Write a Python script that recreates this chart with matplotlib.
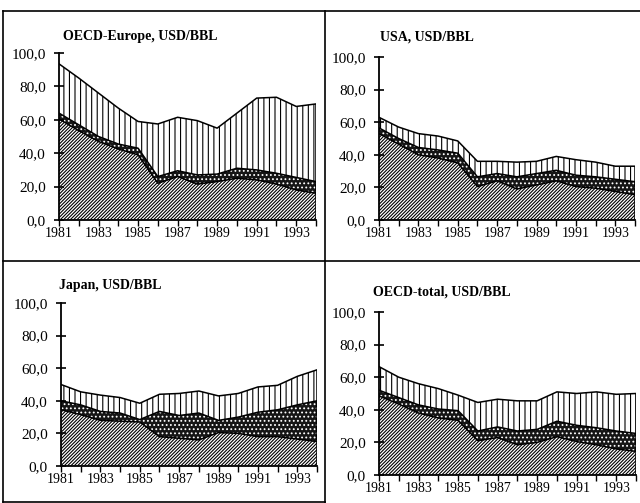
import numpy as np
import matplotlib.pyplot as plt
from matplotlib.lines import Line2D
from matplotlib.ticker import FuncFormatter, MultipleLocator

plt.rcParams['font.family'] = ['Liberation Serif', 'DejaVu Serif']
plt.rcParams['hatch.linewidth'] = 0.8

years = [1981, 1982, 1983, 1984, 1985, 1986, 1987, 1988, 1989, 1990, 1991, 1992, 1993, 1994]

# three stacked layers per region: bottom (diagonal), middle (dotted), top (vertical)
europe_bottom = [60.5, 53.5, 47, 42.5, 39, 22, 26, 21.5, 23, 25, 24, 21.5, 18, 16]
europe_middle = [3.5, 3.5, 3, 3, 4, 4, 3.5, 5.5, 4.5, 6, 6, 6.5, 7.5, 7]
europe_top = [29.5, 28, 26, 21.5, 16, 31.5, 32, 32.5, 27.5, 33, 43, 45.5, 42.5, 46.5]

usa_bottom = [53, 46.5, 40, 38, 35, 20.5, 24, 19, 21.5, 24, 20.5, 19.5, 17.5, 15.5]
usa_middle = [3.5, 3.5, 4.5, 5, 6, 6, 4.5, 7.5, 7, 6.5, 7, 7, 7.5, 8]
usa_top = [6.5, 7, 8.5, 8.5, 7.5, 9.5, 7.5, 9, 7.5, 8.5, 9.5, 9, 8, 9.5]

japan_bottom = [34.5, 31.5, 28, 27.5, 27, 18, 17, 16, 20.5, 20, 18, 18, 16.5, 15]
japan_middle = [5.5, 6, 5.5, 5, 1.5, 15.5, 14, 16.5, 7.5, 10, 15, 16.5, 21, 25]
japan_top = [10, 8, 10, 9.5, 10, 10.5, 13.5, 13.5, 15, 14.5, 15.5, 15, 17.5, 19]

total_bottom = [48.5, 43.5, 38, 35, 33.5, 21, 23, 18.5, 20, 23.5, 20.5, 18.5, 16, 14.5]
total_middle = [3.5, 4, 5, 5.5, 6, 6, 6.5, 8.5, 8, 9.5, 10, 10.5, 11, 11]
total_top = [14.5, 12.5, 13, 12.5, 9.5, 17.5, 17, 18.5, 17.5, 18, 19.5, 22, 22.5, 24.5]

titles = ["OECD-Europe, USD/BBL", "USA, USD/BBL", "Japan, USD/BBL", "OECD-total, USD/BBL"]

W, H = 640, 503
fig = plt.figure(figsize=(W / 100, H / 100), dpi=100)

# pixel boxes: left, right, bottom(y of 0), top(y of 100); title position
panels = [
    (59, 316, 220, 53, (63, 37), europe_bottom, europe_middle, europe_top),
    (379, 635, 220, 57, (380, 37), usa_bottom, usa_middle, usa_top),
    (61, 317, 466, 303, (59, 286), japan_bottom, japan_middle, japan_top),
    (379, 636, 475, 312, (373, 292), total_bottom, total_middle, total_top),
]

fmt = FuncFormatter(lambda v, p: f"{v:.1f}".replace('.', ','))

for (l, r, b, t, tpos, lo, mid, top), title in zip(panels, titles):
    ax = fig.add_axes([l / W, 1 - b / H, (r - l) / W, (b - t) / H])
    c1 = np.array(lo, dtype=float)
    c2 = c1 + np.array(mid)
    c3 = c2 + np.array(top)
    ax.fill_between(years, 0, c1, facecolor='white', edgecolor='black', hatch='//////////', lw=0)
    ax.fill_between(years, c1, c2, facecolor='#151515', edgecolor='white', hatch='....', lw=0)
    ax.fill_between(years, c2, c3, facecolor='white', edgecolor='black', hatch='|||', lw=0)
    for c in (c1, c2, c3):
        ax.plot(years, c, color='black', lw=1.1)
    ax.vlines(years[-1], 0, c3[-1], color='black', lw=1.1)

    ax.set_xlim(1981, 1994)
    ax.set_ylim(0, 100)
    ax.spines['top'].set_visible(False)
    ax.spines['right'].set_visible(False)
    ax.spines['left'].set_linewidth(1.3)
    ax.spines['bottom'].set_linewidth(1.3)
    ax.yaxis.set_major_locator(MultipleLocator(20))
    ax.yaxis.set_major_formatter(fmt)
    ax.set_xticks(years[::2])
    ax.set_xticks(years, minor=True)
    ax.tick_params(axis='y', direction='inout', length=7, width=1.2, labelsize=11, pad=6)
    ax.tick_params(axis='x', which='both', direction='out', length=4, width=1.0, labelsize=10, pad=1)
    fig.text(tpos[0] / W, 1 - tpos[1] / H, title, fontsize=10, fontweight='bold',
             ha='left', va='center')

# panel frame lines
def hline(y, x0, x1):
    fig.add_artist(Line2D([x0 / W, x1 / W], [1 - y / H, 1 - y / H], color='black', lw=1.2))

def vline(x, y0, y1):
    fig.add_artist(Line2D([x / W, x / W], [1 - y0 / H, 1 - y1 / H], color='black', lw=1.2))

hline(11, 3, 640)
hline(261, 3, 640)
hline(502, 3, 325)
vline(3, 11, 502)
vline(325, 11, 503)

fig.savefig("out.png", dpi=100)
